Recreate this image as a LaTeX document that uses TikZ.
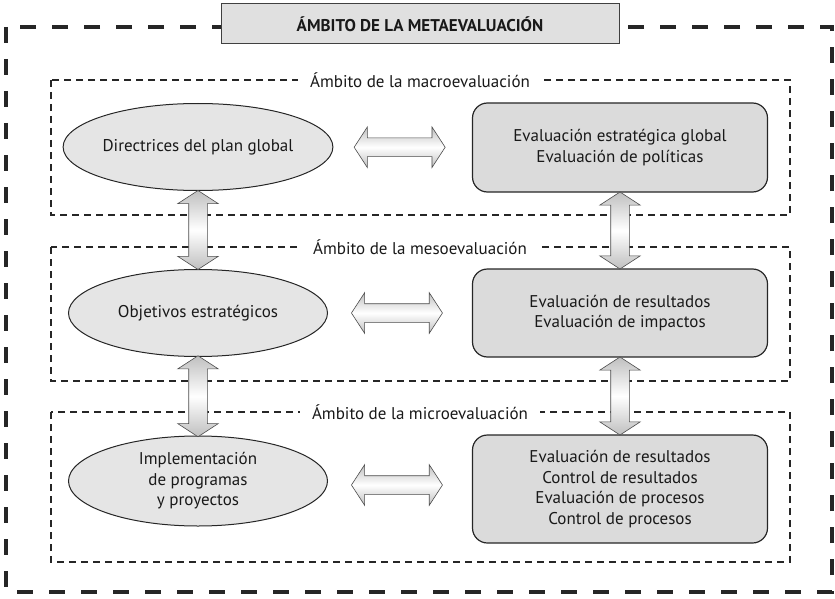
\documentclass[tikz,border=0pt]{standalone}
\usepackage{fontspec}
\setmainfont{PT Sans}
\usetikzlibrary{shapes.geometric,shapes.arrows,calc,positioning}

\tikzset{
  elipse/.style={ellipse, draw=black!85, line width=1pt, fill=black!10,
                 minimum width=259pt, minimum height=87pt, inner sep=0pt, align=center},
  caja/.style={rectangle, rounded corners=15pt, draw=black!85, line width=1.2pt, fill=black!14,
               minimum width=295pt, minimum height=89pt, inner sep=0pt, align=center},
  flecha/.style={double arrow, draw=black!70, line width=0.6pt, inner xsep=0pt, inner ysep=9pt,
                 double arrow head extend=11pt, double arrow tip angle=114,
                 top color=black!25, bottom color=black!25, middle color=white},
  ambito/.style={fill=white, inner xsep=12pt, inner ysep=1pt},
  marco/.style={black!85, line width=2pt, dash pattern=on 7pt off 5pt},
}

\begin{document}
\begin{tikzpicture}[x=1pt,y=-1pt,font=\fontsize{17}{20.5}\selectfont,text=black!90]
\useasboundingbox (0,0) rectangle (835,599);

% marco exterior
\draw[black!85, line width=3.5pt, dash pattern=on 16pt off 16pt] (6,27) rectangle (832,592);
\node (titulo) [draw=black!75, line width=1pt, fill=black!12, minimum width=398pt, minimum height=40pt]
      at (420,24) {\bfseries ÁMBITO DE LA METAEVALUACIÓN};

% ambitos
\draw[marco] (51,80) rectangle (790,215);
\draw[marco] (51,247) rectangle (790,381);
\draw[marco] (51,412) rectangle (790,562);
\node (macro) [ambito] at (420,80) {Ámbito de la macroevaluación};
\node (meso) [ambito] at (420,247) {Ámbito de la mesoevaluación};
\node (micro) [ambito] at (420,412) {Ámbito de la microevaluación};

\node (dirplan) [elipse] at (198,147) {Directrices del plan global};
\node (objest) [elipse] at (198,313) {Objetivos estratégicos};
\node (implem) [elipse, minimum height=90pt] at (198,481) {Implementación\\de programas\\y proyectos};

\node (evglob) [caja] at (620,147.5) {Evaluación estratégica global\\Evaluación de políticas};
\node (evres) [caja, minimum height=88pt] at (620,313) {Evaluación de resultados\\Evaluación de impactos};
\node (evproc) [caja, minimum height=108pt] at (620,489) {Evaluación de resultados\\Control de resultados\\Evaluación de procesos\\Control de procesos};

% flechas
\node (fa) [flecha, minimum height=91pt] at ($(dirplan.east)!0.5!(evglob.west)+(-3,0)$) {};
\node (fb) [flecha, minimum height=91pt] at ($(objest.east)!0.5!(evres.west)+(-3,0)$) {};
\node (fc) [flecha, minimum height=91pt] at ($(implem.east)!0.5!(evproc.west)+(-3,0)$) {};
\node (fv1) [flecha, rotate=90, minimum height=79pt] at ($(dirplan.south)!0.5!(objest.north)$) {};
\node (fv2) [flecha, rotate=90, minimum height=81pt] at ($(objest.south)!0.5!(implem.north)$) {};
\node (fv3) [flecha, rotate=90, minimum height=77pt] at ($(evglob.south)!0.5!(evres.north)$) {};
\node (fv4) [flecha, rotate=90, minimum height=78pt] at ($(evres.south)!0.5!(evproc.north)$) {};
\end{tikzpicture}
\end{document}
